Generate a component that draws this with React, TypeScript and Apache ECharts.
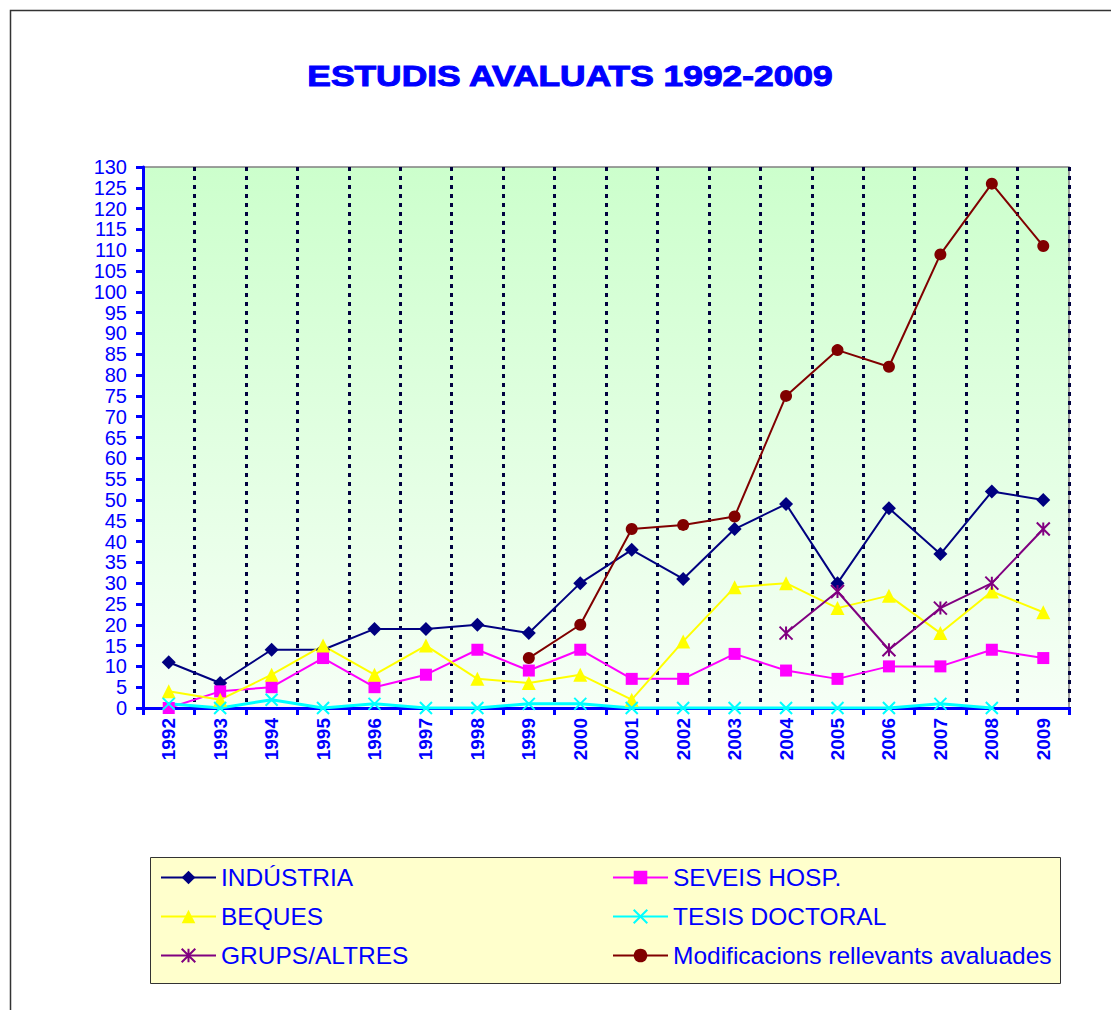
import React, { useEffect, useRef } from "react";
import * as echarts from "echarts";

const years = ["1992","1993","1994","1995","1996","1997","1998","1999","2000","2001","2002","2003","2004","2005","2006","2007","2008","2009"];
const industria = [11, 6, 14, 14, 19, 19, 20, 18, 30, 38, 31, 43, 49, 30, 48, 37, 52, 50];
const seveisHosp = [0, 4, 5, 12, 5, 8, 14, 9, 14, 7, 7, 13, 9, 7, 10, 10, 14, 12];
const beques = [4, 2, 8, 15, 8, 15, 7, 6, 8, 2, 16, 29, 30, 24, 27, 18, 28, 23];
const tesis = [1, 0, 2, 0, 1, 0, 0, 1, 1, 0, 0, 0, 0, 0, 0, 1, 0, null];
const grups = [null, null, null, null, null, null, null, null, null, null, null, null, 18, 28, 14, 24, 30, 43];
const modificacions = [null, null, null, null, null, null, null, 12, 20, 43, 44, 46, 75, 86, 82, 109, 126, 111];

const FONT = "'Liberation Sans', Arial, sans-serif";
const BLUE = "#0000ff";

export default function App() {
  const ref = useRef<HTMLDivElement>(null);
  useEffect(() => {
    if (!ref.current) return;
    const chart = echarts.init(ref.current, null, { renderer: "svg" });
    const mk = (name: string, data: any[], color: string, symbol: string, symbolSize: number, extra: any = {}) => ({
      name,
      type: "line",
      data,
      symbol,
      symbolSize,
      connectNulls: false,
      lineStyle: { color, width: 2 },
      itemStyle: { color, borderColor: color, borderWidth: extra.borderWidth ?? 0 },
      ...extra.series,
    });
    const xSym = "path://M0,0L10,10M10,0L0,10";
    const astSym = "path://M0,0L10,10M10,0L0,10M5,0L5,10";
    const legendText = { color: BLUE, fontSize: 24.5, fontFamily: FONT, lineHeight: 24 };
    chart.setOption({
      animation: false,
      backgroundColor: "#ffffff",
      textStyle: { fontFamily: FONT },
      graphic: [
        { type: "rect", shape: { x: 10.5, y: 10.5, width: 1120, height: 1020 }, style: { fill: "none", stroke: "#333333", lineWidth: 1.5 }, z: -10 },
        { type: "rect", shape: { x: 150.5, y: 857.5, width: 910, height: 126 }, style: { fill: "#ffffcc", stroke: "#333333", lineWidth: 1 }, z: -5 },
        {
          type: "text",
          x: 570,
          y: 76,
          scaleX: 1.22,
          style: {
            text: "ESTUDIS AVALUATS 1992-2009",
            fill: BLUE,
            stroke: BLUE,
            lineWidth: 1,
            font: "bold 29px 'Liberation Sans', Arial, sans-serif",
            textAlign: "center",
            textVerticalAlign: "middle",
          },
        },
      ],
      grid: {
        left: 143,
        top: 167,
        right: 42,
        bottom: 302,
        show: true,
        borderColor: "#808080",
        borderWidth: 1.5,
        backgroundColor: {
          type: "linear", x: 0, y: 0, x2: 0, y2: 1,
          colorStops: [
            { offset: 0, color: "#ccffcc" },
            { offset: 1, color: "#f6fff6" },
          ],
        },
      },
      legend: [
        {
          data: ["INDÚSTRIA", "BEQUES", "GRUPS/ALTRES"],
          orient: "vertical",
          left: 160,
          top: 865,
          padding: 0,
          itemWidth: 55,
          itemHeight: 17,
          itemGap: 14,
          textStyle: legendText,
        },
        {
          data: ["SEVEIS HOSP.", "TESIS DOCTORAL", "Modificacions rellevants avaluades"],
          orient: "vertical",
          left: 612,
          top: 865,
          padding: 0,
          itemWidth: 55,
          itemHeight: 17,
          itemGap: 14,
          textStyle: legendText,
        },
      ],
      xAxis: {
        type: "category",
        data: years,
        boundaryGap: true,
        axisLine: { lineStyle: { color: BLUE, width: 3 } },
        axisTick: { show: true, interval: 0, length: 7, lineStyle: { color: BLUE, width: 3 } },
        axisLabel: { interval: 0, rotate: 90, color: BLUE, fontSize: 19, fontWeight: "bold", fontFamily: FONT, margin: 10 },
        splitLine: { show: true, interval: 0, lineStyle: { color: "#000040", width: 3, type: [4, 5] } },
      },
      yAxis: {
        type: "value",
        min: 0,
        max: 130,
        interval: 5,
        axisLine: { show: true, lineStyle: { color: BLUE, width: 3 } },
        axisTick: { show: true, length: 7, lineStyle: { color: BLUE, width: 3 } },
        axisLabel: { color: BLUE, fontSize: 20, fontFamily: FONT, margin: 16 },
        splitLine: { show: false },
      },
      series: [
        mk("INDÚSTRIA", industria, "#000080", "diamond", 14),
        mk("SEVEIS HOSP.", seveisHosp, "#ff00ff", "rect", 12),
        mk("BEQUES", beques, "#ffff00", "triangle", 14),
        mk("TESIS DOCTORAL", tesis, "#00ffff", xSym, 12, { borderWidth: 2, series: { lineStyle: { color: "#00ffff", width: 3 } } }),
        mk("GRUPS/ALTRES", grups, "#800080", astSym, 13, { borderWidth: 2 }),
        mk("Modificacions rellevants avaluades", modificacions, "#800000", "circle", 12),
      ],
    });
    return () => chart.dispose();
  }, []);
  return <div ref={ref} style={{ position: "fixed", left: 0, top: 0, width: 1111, height: 1010 }} />;
}
